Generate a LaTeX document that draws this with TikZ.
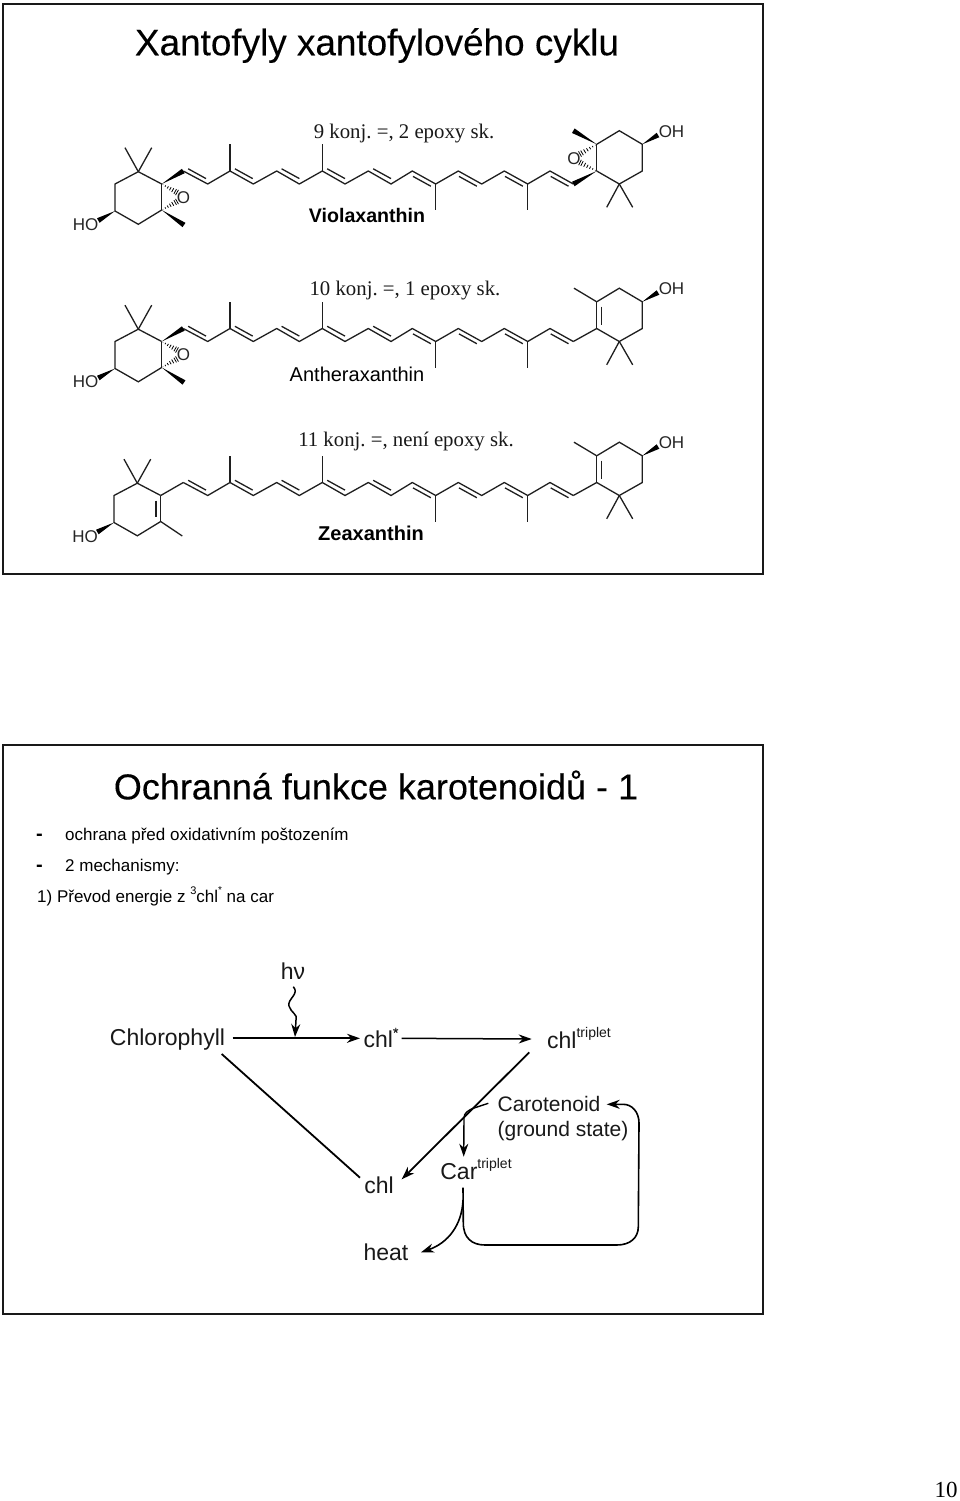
\documentclass[tikz,border=0pt]{standalone}
\usepackage{fontspec}
\setmainfont{Liberation Sans}
\newfontfamily\serifx{Liberation Serif}
\newfontfamily\medx[FakeBold=0.15]{Liberation Sans}
\usetikzlibrary{arrows.meta,calc}
\newcommand\fs[1]{\fontsize{#1}{#1}\selectfont}
\tikzset{
  frame/.style={draw=black!90,line width=2.6pt},
  bond/.style={draw=black!88,line width=1.3pt,line join=miter},
  lab/.style={inner sep=0pt,text=black},
  chem/.style={inner sep=0pt,font=\fs{17},text=black!85},
  caption/.style={inner sep=0pt,font=\serifx\fs{20.8},text=black!90},
  scheme/.style={inner sep=0pt,outer sep=0pt,font=\fs{23},text=black!90},
  link/.style={draw=black,line width=1.8pt},
  tip/.style={-{Stealth[length=13pt,width=9pt]}},
}
% filled wedge: point at first, wide end at second
\newcommand\wdg[4]{%
  \pgfmathsetmacro\ddx{#3-#1}\pgfmathsetmacro\ddy{#4-#2}%
  \pgfmathsetmacro\ll{sqrt(\ddx*\ddx+\ddy*\ddy)}%
  \pgfmathsetmacro\px{-\ddy/\ll*2.6}\pgfmathsetmacro\py{\ddx/\ll*2.6}%
  \fill[black] (#1,#2) -- (#3+\px,#4+\py) -- (#3-\px,#4-\py) -- cycle;}
% hashed wedge
\newcommand\hsh[4]{%
  \pgfmathsetmacro\ddx{#3-#1}\pgfmathsetmacro\ddy{#4-#2}%
  \pgfmathsetmacro\ll{sqrt(\ddx*\ddx+\ddy*\ddy)}%
  \foreach \t in {0.08,0.24,0.4,0.56,0.72,0.88,1.0}{%
    \pgfmathsetmacro\mx{#1+\t*\ddx}\pgfmathsetmacro\my{#2+\t*\ddy}%
    \pgfmathsetmacro\px{-\ddy/\ll*3*\t}\pgfmathsetmacro\py{\ddx/\ll*3*\t}%
    \draw[black,line width=.8pt] (\mx+\px,\my+\py) -- (\mx-\px,\my-\py);}}
% polyene chain, from (183.3,171) to (573.3,184)
\newcommand\chainx{%
  \draw[bond] (183.3,171) -- (207.7,184) -- (230,171) -- (253.3,184) -- (276.7,171) -- (299.3,184) -- (322.3,171) -- (345,184) -- (368.3,171) -- (391,184) -- (412.3,171) -- (435.7,184) -- (458.3,171) -- (481.7,184) -- (504.3,171) -- (527.7,184) -- (550,171) -- (573.3,184);
  \draw[bond] (230,171) -- (230,144.3);
  \draw[bond] (322.3,171) -- (322.3,144.3);
  \draw[bond] (435.7,184) -- (435.7,210);
  \draw[bond] (527.7,184) -- (527.7,210);
  \foreach \a in {183.3,230,276.7,322.3,368.3}{\draw[bond] (\a+4.9,168.8) -- (\a+22.7,178.6);}
  \foreach \a in {412.3,458.3,504.3,550}{\draw[bond] (\a+.7,176.4) -- (\a+18.5,186.2);}}
% common ring carbons
\newcommand\leftopen{%
  \draw[bond] (161.7,184) -- (138.3,171.7) -- (115,184) -- (115,211) -- (138.3,224.3) -- (161.7,210);
  \draw[bond] (138.3,171.7) -- (125,147.7);
  \draw[bond] (138.3,171.7) -- (151.7,147.7);
  \wdg{115}{211}{98.3}{220.5}}
\newcommand\leftepoxy{%
  \leftopen
  \draw[bond] (161.7,184) -- (161.7,210);
  \wdg{161.7}{184}{183.3}{171}
  \wdg{161.7}{210}{184}{225}
  \hsh{161.7}{184}{177}{192.5}
  \hsh{161.7}{210}{177}{201.5}
  \node[chem] (oL) at (183.5,197.5) {O};}
\newcommand\rightopen{%
  \draw[bond] (596.7,144.3) -- (619.3,130.7) -- (642.3,144.3) -- (642.3,171) -- (619.3,184) -- (596.7,171);
  \draw[bond] (619.3,184) -- (606.7,207.3);
  \draw[bond] (619.3,184) -- (632.7,207.3);
  \wdg{642.3}{144.3}{658}{135}}
\newcommand\rightplain{%
  \rightopen
  \draw[bond] (596.7,144.3) -- (596.7,171);
  \draw[bond] (601.5,149) -- (601.5,167);
  \draw[bond] (596.7,171) -- (573.3,184);
  \draw[bond] (596.7,144.3) -- (574,130.7);}
\begin{document}
\begin{tikzpicture}[x=1pt,y=-1pt]
\frenchspacing
\useasboundingbox (0,0) rectangle (960,1501);
\fill[white] (0,0) rectangle (960,1501);
% frames
\draw[frame] (3,4) rectangle (763,574);
\draw[frame] (3,745) rectangle (763,1314);

\node[lab,font=\medx\fs{36.9}] (t1) at (377,45.5) {Xantofyly xantofylového cyklu};

% Violaxanthin
\node[caption] (c1) at (404,133.5) {9 konj. =, 2 epoxy sk.};
\chainx
\leftepoxy
\rightopen
\draw[bond] (596.7,144.3) -- (596.7,171);
\wdg{596.7}{171}{573.3}{184}
\wdg{596.7}{144.3}{573.3}{130.7}
\hsh{596.7}{144.3}{580}{154}
\hsh{596.7}{171}{580}{162.5}
\node[chem] (oR) at (574,158.3) {O};
\node[chem] (oh1) at (671.5,132) {OH};
\node[chem] (ho1) at (85.5,224.5) {HO};
\node[lab,font=\bfseries\fs{19.6}] (n1) at (367,215) {Violaxanthin};

% Antheraxanthin
\node[caption] (c2) at (405,290.5) {10 konj. =, 1 epoxy sk.};
\begin{scope}[shift={(0,157.5)}]
\chainx
\leftepoxy
\rightplain
\end{scope}
\node[chem] (oh2) at (671.5,289) {OH};
\node[chem] (ho2) at (85.5,381.5) {HO};
\node[lab,font=\fs{20}] (n2) at (357,374) {Antheraxanthin};

% Zeaxanthin
\node[caption] (c3) at (406,441.5) {11 konj. =, není epoxy sk.};
\begin{scope}[shift={(0,311.5)}]
\chainx
\begin{scope}[shift={(-1,0)}]
\leftopen
\draw[bond] (161.7,184) -- (161.7,210);
\draw[bond] (157,189) -- (157,205);
\draw[bond] (161.7,210) -- (183.3,224.5);
\draw[bond] (161.7,184) -- (184.3,171);
\end{scope}
\rightplain
\end{scope}
\node[chem] (oh3) at (671.5,443) {OH};
\node[chem] (ho3) at (85,536.5) {HO};
\node[lab,font=\bfseries\fs{20}] (n3) at (371,533) {Zeaxanthin};

% second slide
\node[lab,font=\medx\fs{36}] (t2) at (376,785) {Ochranná funkce karotenoidů - 1};
\node[lab,font=\bfseries\fs{20},anchor=base west] (d1) at (36,840) {-};
\node[lab,font=\fs{17},anchor=base west] (l1) at (65,840) {ochrana před oxidativním poštozením};
\node[lab,font=\bfseries\fs{20},anchor=base west] (d2) at (36,871) {-};
\node[lab,font=\fs{17},anchor=base west] (l2) at (65,871) {2 mechanismy:};
\node[lab,font=\fs{17},anchor=base west] (l3) at (37,902) {1) Převod energie z \raisebox{.45em}{\fs{11}3}chl\raisebox{.5em}{\fs{10}*} na car};

% scheme nodes
\node[scheme] (hv) at (293,971) {hν};
\node[scheme] (chlo) at (167.5,1040) {Chlorophyll};
\node[scheme] (chls) at (381,1038) {chl\raisebox{.45em}{\medx\fs{14}*}};
\node[scheme] (chlt) at (579,1038) {chl\raisebox{.5em}{\fs{14}triplet}};
\node[scheme,font=\fs{21}] (caro1) at (549,1104) {Carotenoid};
\node[scheme,font=\fs{21}] (caro2) at (563,1131) {(ground state)};
\node[scheme] (chl) at (379,1185) {chl};
\node[scheme] (cart) at (476,1169) {Car\raisebox{.5em}{\fs{14}triplet}};
\node[scheme] (heat) at (386,1252) {heat};

\coordinate (chlostart) at (232.7,1038.3);
\coordinate (chlsend) at (360,1038.3);
\coordinate (hvin) at (293.3,986.7);
\coordinate (hvout) at (295,1037);
\coordinate (s2a) at (401.7,1038.3);
\coordinate (s2b) at (531.7,1039);
\coordinate (dla) at (221.7,1054);
\coordinate (dlb) at (360,1177.7);
\coordinate (dra) at (529.3,1052.3);
\coordinate (drb) at (401.7,1179.3);
\coordinate (ca) at (488.3,1103.3);
\coordinate (cb) at (463.7,1156.7);
\coordinate (la) at (463,1187.7);
\coordinate (lb) at (606.7,1104.3);
\coordinate (hb) at (421,1252.3);

\draw[link,tip] (chlostart) -- (chlsend);
\draw[link,tip,line width=1.5pt] (hvin) .. controls (300,994) and (287,999) .. (289,1006) .. controls (291,1013) and (298,1014) .. (296,1020) -- (hvout);
\draw[link,tip,line width=1.5pt] (s2a) -- (s2b);
\draw[link] (dla) -- (dlb);
\draw[link,tip] (dra) -- (drb);
\draw[link,tip,line width=1.4pt] (ca) -- (475,1107.7) .. controls (468,1110) and (464,1113) .. (464,1118) -- (cb);
\draw[link,tip,line width=1.6pt] (la) -- (463.3,1223) .. controls (463.3,1238) and (472,1245) .. (485,1245) -- (616.7,1245) .. controls (630,1245) and (638.3,1238) .. (638.3,1226.7) -- (639,1123) .. controls (639,1112) and (632,1104.3) .. (623.3,1104.3) -- (lb);
\draw[link,tip,line width=1.6pt] (463,1200) .. controls (462,1225) and (448,1243) .. (hb);

\node[inner sep=0pt,font=\serifx\fs{23}] (pg) at (946,1490) {10};
\end{tikzpicture}
\end{document}
